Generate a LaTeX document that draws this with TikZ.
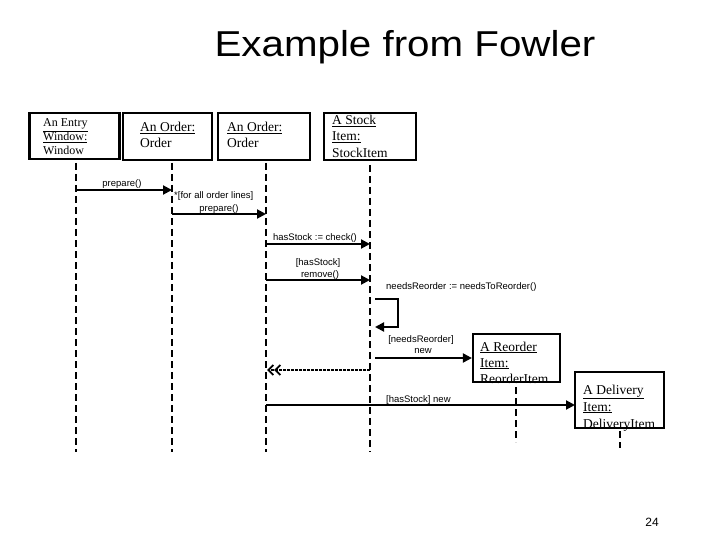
\documentclass[tikz,border=0pt]{standalone}
\usepackage{fontspec}
\setmainfont{Liberation Serif}
\setsansfont{Liberation Sans}
\usetikzlibrary{arrows.meta}
\tikzset{
  objbox/.style={draw=black, line width=2.2pt, fill=none, inner sep=0pt},
  btxt/.style={inner sep=0pt, anchor=base west, font=\fontsize{13.5}{16}\selectfont},
  btxts/.style={inner sep=0pt, anchor=base west, font=\fontsize{12}{14}\selectfont},
  lbl/.style={inner sep=0pt, font=\sffamily\fontsize{9.5}{11}\selectfont},
  lifeline/.style={line width=2.2pt, dash pattern=on 7pt off 4pt},
  msg/.style={line width=2pt, -{Triangle[length=9pt,width=9pt]}},
  retmsg/.style={line width=1.4pt, dash pattern=on 3pt off 1pt,
     -{Straight Barb[length=5pt,width=10pt,line width=1.8pt]Straight Barb[length=5pt,width=10pt,line width=1.8pt]}},
}
\begin{document}
\begin{tikzpicture}[x=1pt,y=-1pt]
\useasboundingbox (0,0) rectangle (720,540);

% title
\node[inner sep=0pt, font=\sffamily\fontsize{36}{40}\selectfont, xscale=1.12, transform shape] (title) at (405,47) {Example from Fowler};

% object boxes
\node[objbox, minimum width=90pt, minimum height=46pt] (entry) at (74.5,136) {};
\node[objbox, minimum width=89pt, minimum height=47pt] (order1) at (167.5,136.5) {};
\node[objbox, minimum width=92pt, minimum height=47pt] (order2) at (264,136.5) {};
\node[objbox, minimum width=92pt, minimum height=47pt] (stock) at (370,136.5) {};
\node[objbox, minimum width=87pt, minimum height=48pt] (reorder) at (516.5,358) {};
\node[objbox, minimum width=89pt, minimum height=56pt] (delivery) at (619.5,400) {};

% box texts
\node[btxts] (entryA) at (43,127) {\underline{An Entry}};
\node[btxts] (entryB) at (43,141) {\underline{Window:}};
\node[btxts] (entryC) at (43,155) {Window};
\node[btxt] (order1A) at (140,132) {\underline{An Order:}};
\node[btxt] (order1B) at (140,148) {Order};
\node[btxt] (order2A) at (227,132) {\underline{An Order:}};
\node[btxt] (order2B) at (227,148) {Order};
\node[btxt] (stockA) at (332,125) {\underline{A Stock}};
\node[btxt] (stockB) at (332,141) {\underline{Item:}};
\node[btxt] (stockC) at (332,158) {StockItem};
\node[btxt] (reorderA) at (480,351) {\underline{A Reorder}};
\node[btxt] (reorderB) at (480,367) {\underline{Item:}};
\node[btxt] (reorderC) at (480,383) {ReorderItem};
\node[btxt] (deliveryA) at (583,394) {\underline{A Delivery}};
\node[btxt] (deliveryB) at (583,411) {\underline{Item:}};
\node[btxt] (deliveryC) at (583,428) {DeliveryItem};

% lifeline ends
\coordinate (e1) at (76,452);
\coordinate (e2) at (172,452);
\coordinate (e3) at (266,452);
\coordinate (e4) at (370,452);
\coordinate (e5) at (516,442);
\coordinate (e6) at (620,448);
\coordinate (s1) at (76,163);
\coordinate (s2) at (172,163);
\coordinate (s3) at (266,163);
\coordinate (s4) at (370,165);
\coordinate (s5) at (516,387);
\coordinate (s6) at (620,431);
\draw[lifeline] (s1) -- (e1);
\draw[lifeline] (s2) -- (e2);
\draw[lifeline] (s3) -- (e3);
\draw[lifeline] (s4) -- (e4);
\draw[lifeline] (s5) -- (e5);
\draw[lifeline] (s6) -- (e6);

% message end points
\coordinate (m1a) at (76,190);   \coordinate (m1b) at (172,190);
\coordinate (m2a) at (172,214);  \coordinate (m2b) at (266,214);
\coordinate (m3a) at (266,244);  \coordinate (m3b) at (370,244);
\coordinate (m4a) at (266,280);  \coordinate (m4b) at (370,280);
\coordinate (sc1) at (375,299);  \coordinate (sc2) at (398,299);
\coordinate (sc3) at (398,327);  \coordinate (sc4) at (375,327);
\coordinate (m6a) at (375,358);
\coordinate (r1a) at (370,370);  \coordinate (r1b) at (267,370);
\coordinate (m7a) at (266,405);  \coordinate (m7b) at (575,405);

\draw[msg] (m1a) -- (m1b);
\draw[msg] (m2a) -- (m2b);
\draw[msg] (m3a) -- (m3b);
\draw[msg] (m4a) -- (m4b);
\draw[msg] (sc1) -- (sc2) -- (sc3) -- (sc4);
\draw[msg] (m6a) -- (reorder.west);
\draw[retmsg] (r1a) -- (r1b);
\draw[msg] (m7a) -- (m7b);

% labels
\node[lbl] (l1) at (122,184) {prepare()};
\node[lbl, anchor=west] (l2a) at (174,196) {*[for all order lines]};
\node[lbl] (l2b) at (219,209) {prepare()};
\node[lbl] (l3) at (315,238) {hasStock := check()};
\node[lbl] (l4a) at (318,263) {[hasStock]};
\node[lbl] (l4b) at (320,275) {remove()};
\node[lbl, anchor=west] (l5) at (386,287) {needsReorder := needsToReorder()};
\node[lbl] (l6a) at (421,340) {[needsReorder]};
\node[lbl] (l6b) at (423,351) {new};
\node[lbl, anchor=west] (l7) at (386,400) {[hasStock] new};

% page number
\node[inner sep=0pt, font=\sffamily\fontsize{12}{14}\selectfont] (pg) at (652,522) {24};
\end{tikzpicture}
\end{document}
